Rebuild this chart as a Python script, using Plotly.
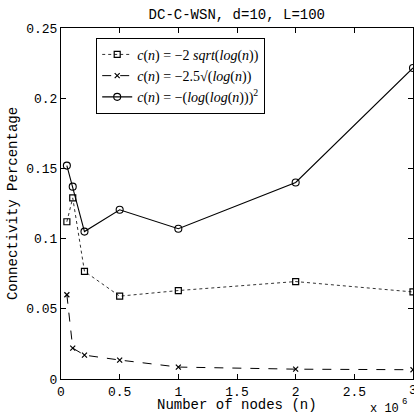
import plotly.graph_objects as go

n_nodes = [50000, 100000, 200000, 500000, 1000000, 2000000, 3000000]
sqrt_two = [0.112, 0.129, 0.0767, 0.059, 0.063, 0.0694, 0.062]
sqrt_two_half = [0.060, 0.022, 0.017, 0.0135, 0.0085, 0.007, 0.0066]
loglog_sq = [0.152, 0.137, 0.105, 0.1205, 0.107, 0.140, 0.2215]

x_ticks = [0, 0.5, 1, 1.5, 2, 2.5, 3]
y_ticks = [0, 0.05, 0.1, 0.15, 0.2, 0.25]

names = [
    "<i>c</i>(<i>n</i>) = −2 <i>sqrt</i>(<i>log</i>(<i>n</i>))",
    "<i>c</i>(<i>n</i>) = −2.5√(<i>log</i>(<i>n</i>))",
    "<i>c</i>(<i>n</i>) = −(<i>log</i>(<i>log</i>(<i>n</i>)))<sup>2</sup>",
]

mono = "Liberation Mono, Courier New, monospace"
serif = "Liberation Serif, DejaVu Serif, serif"

fig = go.Figure()
fig.add_trace(go.Scatter(
    x=n_nodes, y=sqrt_two, mode="lines+markers", name=names[0],
    line=dict(color="#333333", width=1, dash="dot"),
    marker=dict(symbol="square-open", size=6, color="black", line=dict(width=1.2)),
))
fig.add_trace(go.Scatter(
    x=n_nodes, y=sqrt_two_half, mode="lines+markers", name=names[1],
    line=dict(color="black", width=1, dash="dash"),
    marker=dict(symbol="x-thin-open", size=5, color="black", line=dict(width=1.2, color="black")),
))
fig.add_trace(go.Scatter(
    x=n_nodes, y=loglog_sq, mode="lines+markers", name=names[2],
    line=dict(color="black", width=1.1),
    marker=dict(symbol="circle-open", size=7, color="black", line=dict(width=1.1)),
))

fig.update_layout(
    width=414, height=415,
    margin=dict(l=61, r=1, t=28, b=36),
    paper_bgcolor="white", plot_bgcolor="white",
    title=dict(text="DC-C-WSN, d=10, L=100", x=0.572, xanchor="center",
               y=0.967, yanchor="middle",
               font=dict(family=mono, size=14, color="black")),
    showlegend=True,
    legend=dict(x=0.1, y=0.972, xanchor="left", yanchor="top",
                bgcolor="white", bordercolor="black", borderwidth=1,
                font=dict(family=serif, size=14, color="black"),
                tracegroupgap=0, itemwidth=30),
    font=dict(family=mono, color="black"),
)
fig.update_xaxes(
    range=[0, 3000000], tickvals=[v * 1e6 for v in x_ticks],
    ticktext=[f"{v:g}" for v in x_ticks],
    ticks="inside", ticklen=5, tickcolor="black", mirror="ticks",
    showline=True, linecolor="black", linewidth=1, showgrid=False, zeroline=False,
    tickfont=dict(family=mono, size=13, color="black"),
)
fig.update_yaxes(
    range=[0, 0.25], tickvals=y_ticks, ticktext=[f"{v:g}" for v in y_ticks],
    ticks="inside", ticklen=5, tickcolor="black", mirror="ticks",
    showline=True, linecolor="black", linewidth=1, showgrid=False, zeroline=False,
    tickfont=dict(family=mono, size=13, color="black"),
    title=dict(text="Connectivity Percentage", standoff=5,
               font=dict(family=mono, size=14, color="black")),
)
# last x tick label (partly outside the window, as in the reference)
fig.add_annotation(
    text=f"{x_ticks[-1]:g}", xref="x", yref="paper", x=x_ticks[-1] * 1e6, y=0,
    xanchor="center", yanchor="top", yshift=-2, showarrow=False,
    font=dict(family=mono, size=13, color="black"),
)
# x axis title
fig.add_annotation(
    text="Number of nodes (n)", xref="paper", yref="paper", x=0.5, y=-0.073,
    xanchor="center", yanchor="middle", showarrow=False,
    font=dict(family=mono, size=14, color="black"),
)
# exponent label
fig.add_annotation(
    text="x 10", xref="paper", yref="paper", x=0.965, y=-0.085,
    xanchor="right", yanchor="middle", showarrow=False,
    font=dict(family=mono, size=12, color="black"),
)
fig.add_annotation(
    text="6", xref="paper", yref="paper", x=0.962, y=-0.065,
    xanchor="left", yanchor="middle", showarrow=False,
    font=dict(family=mono, size=9, color="black"),
)
fig.write_html("out.html")
